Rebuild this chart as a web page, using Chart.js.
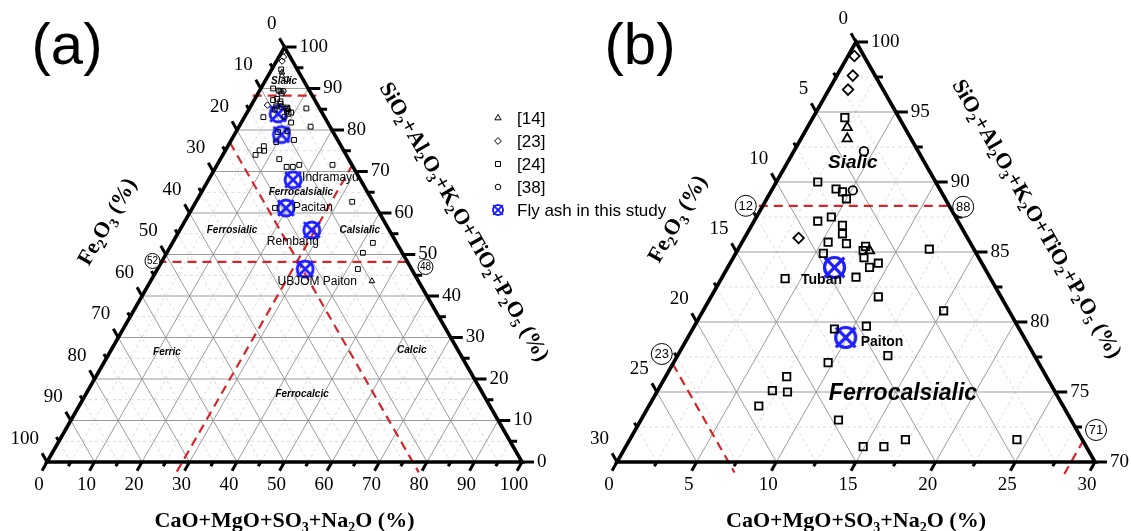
<!DOCTYPE html>
<html><head><meta charset="utf-8">
<script src="https://cdn.jsdelivr.net/npm/chart.js@4.4.1/dist/chart.umd.min.js"></script>
<style>html,body{margin:0;padding:0;background:#fff;overflow:hidden}#wrap{position:relative;width:1131px;height:531px}</style>
</head><body><div id="wrap"><canvas id="c" width="1131" height="531"></canvas></div>
<script>
// ---------------- DATA (percent values) ----------------
const seriesLabels = ['[14]', '[23]', '[24]', '[38]', 'Fly ash in this study'];
// [14] triangles
const ref14CaO  = [2.5, 2.9, 8.3, 46.6];
const ref14SiO2 = [93.9, 93.1, 85.1, 43.6];
// [23] diamonds
const ref23CaO  = [0.4, 1.0, 1.2, 3.4];
const ref23SiO2 = [99.0, 97.6, 96.6, 86.0];
// [24] squares
const ref24CaO  = [2.0, 2.6, 4.0, 4.5, 5.0, 4.0, 4.7, 5.7, 6.0, 5.4, 6.6, 5.5, 7.9, 7.9, 8.2, 8.9, 9.3, 12.0, 4.0, 8.4, 10.5, 8.9, 10.8, 13.2, 9.7, 7.6, 7.2, 8.2, 6.9, 12.4, 14.9, 16.2, 17.3, 24.3, 15.1, 17.4, 32.9, 42.2, 41.3, 42.2];
const ref24SiO2 = [94.6, 90.0, 89.5, 89.3, 88.8, 87.2, 87.5, 86.9, 86.3, 85.7, 85.6, 84.9, 85.1, 85.4, 84.6, 83.9, 84.2, 85.2, 83.1, 83.2, 81.8, 79.5, 79.7, 77.6, 77.1, 76.1, 75.1, 75.0, 74.0, 73.0, 71.1, 71.1, 71.6, 71.6, 80.8, 61.2, 62.7, 52.8, 50.4, 46.5];
// [38] circles
const ref38CaO  = [4.4, 5.1];
const ref38SiO2 = [92.2, 89.4];
// Fly ash in this study
const flyNames = ['Tuban', 'Paiton', 'Indramayu', 'Pacitan', 'Rembang', 'UBJOM Paiton'];
const flyCaO   = [6.7, 9.9, 17.8, 19.7, 27.8, 31.1];
const flySiO2  = [83.9, 78.9, 68.0, 61.2, 55.9, 46.5];
// classification boundaries
const boundSiO2  = [88.3, 48.2];
const boundCaO   = [28.5];
const boundFe2O3 = [23];
const boundTags  = ['52', '48', '12', '88', '23', '71'];
// region names (position given as CaO, SiO2)
const regionA = ['Sialic', 'Ferrocalsialic', 'Ferrosialic', 'Calsialic', 'Ferric', 'Ferrocalcic', 'Calcic'];
const regionACaO  = [4.0, 20.9, 11.0, 37.9, 12.0, 45.5, 63.3];
const regionASiO2 = [91.8, 65.1, 55.9, 55.9, 26.5, 16.4, 27.0];
const regionB = ['Sialic', 'Ferrocalsialic'];
const regionBCaO  = [4.1, 15.5];
const regionBSiO2 = [91.4, 74.9];
const titleBottom = 'CaO+MgO+SO3+Na2O (%)';
const titleLeft   = 'Fe2O3 (%)';
const titleRight  = 'SiO2+Al2O3+K2O+TiO2+P2O5 (%)';

// ---------------- LAYOUT ----------------
const P = {
  a: {x0: 47, y0: 462, w: 475, h: 415, smin: 0, range: 100, n: 10},
  b: {x0: 617, y0: 462, w: 478, h: 420, smin: 70, range: 30, n: 6}
};
const RED = 'rgb(214,36,40)';
const BLUE = 'rgb(30,30,255)';

function tern(p, cao, sio2) {
  const c = cao / p.range, s = (sio2 - p.smin) / p.range;
  return {x: p.x0 + (c + s / 2) * p.w, y: p.y0 - s * p.h};
}
function inside(p, cao, sio2) {
  const c = cao / p.range, s = (sio2 - p.smin) / p.range;
  return c >= 0 && s >= 0 && c + s <= 1.0001;
}
function flyIcon(r, lw) {
  const s = Math.ceil(2 * r + lw * 2 + 6);
  const cv = document.createElement('canvas'); cv.width = s; cv.height = s;
  const g = cv.getContext('2d'); const m = s / 2;
  g.strokeStyle = BLUE; g.lineWidth = lw;
  g.beginPath(); g.arc(m, m, r, 0, Math.PI * 2); g.stroke();
  const d = r * 0.98;
  g.beginPath(); g.moveTo(m - d, m - d); g.lineTo(m + d, m + d); g.moveTo(m + d, m - d); g.lineTo(m - d, m + d); g.stroke();
  return cv;
}
const icons = {a: flyIcon(8, 2.9), b: flyIcon(10, 3.2), leg: flyIcon(5, 2)};

const styleA = [
  {pointStyle: 'triangle', radius: 3.3, lw: 1},
  {pointStyle: 'rectRot', radius: 3.2, lw: 1},
  {pointStyle: 'rect', radius: 3.4, lw: 1},
  {pointStyle: 'circle', radius: 2.6, lw: 1}
];
const styleB = [
  {pointStyle: 'triangle', radius: 5.4, lw: 1.8},
  {pointStyle: 'rectRot', radius: 5.3, lw: 1.8},
  {pointStyle: 'rect', radius: 5.2, lw: 1.8},
  {pointStyle: 'circle', radius: 4.3, lw: 1.8}
];
const refCaO = [ref14CaO, ref23CaO, ref24CaO, ref38CaO];
const refSiO2 = [ref14SiO2, ref23SiO2, ref24SiO2, ref38SiO2];

const datasets = [];
['a', 'b'].forEach(key => {
  const p = P[key]; const st = key === 'a' ? styleA : styleB;
  for (let i = 0; i < 4; i++) {
    const pts = [];
    refCaO[i].forEach((c, j) => { if (inside(p, c, refSiO2[i][j])) pts.push(tern(p, c, refSiO2[i][j])); });
    datasets.push({label: seriesLabels[i] + key, data: pts, pointStyle: st[i].pointStyle, pointRadius: st[i].radius,
      pointBorderWidth: st[i].lw, borderColor: '#000', backgroundColor: 'rgba(255,255,255,0)', showLine: false});
  }
  const fpts = [];
  flyCaO.forEach((c, j) => { if (inside(p, c, flySiO2[j])) fpts.push(tern(p, c, flySiO2[j])); });
  datasets.push({label: seriesLabels[4] + key, data: fpts, pointStyle: icons[key], pointRadius: 10, showLine: false,
    borderColor: BLUE, backgroundColor: 'rgba(0,0,0,0)'});
});

// ---------------- drawing helpers ----------------
function richParts(t) {
  const parts = [];
  for (const ch of t) {
    const sub = /[0-9]/.test(ch);
    const last = parts[parts.length - 1];
    if (last && last.sub === sub) last.t += ch; else parts.push({t: ch, sub});
  }
  return parts;
}
function drawRich(ctx, t, x, y, size, angle) {
  ctx.save(); ctx.translate(x, y); ctx.rotate(angle || 0);
  const parts = richParts(t); let W = 0;
  const f = sub => `bold ${sub ? Math.round(size * 0.62) : size}px "Liberation Serif", "Times New Roman", serif`;
  parts.forEach(q => { ctx.font = f(q.sub); q.w = ctx.measureText(q.t).width; W += q.w; });
  let cx = -W / 2; ctx.textAlign = 'left'; ctx.textBaseline = 'alphabetic'; ctx.fillStyle = '#000';
  parts.forEach(q => { ctx.font = f(q.sub); ctx.fillText(q.t, cx, q.sub ? size * 0.55 : size * 0.34); cx += q.w; });
  ctx.restore();
}
function fmt(v) { return String(Math.round(v * 100) / 100); }

const ternPlugin = {
  id: 'tern',
  beforeDatasetsDraw(chart) {
    const ctx = chart.ctx; const sx = chart.scales.x, sy = chart.scales.y;
    ['a', 'b'].forEach(key => {
      const p = P[key];
      const N = (c, s) => ({x: sx.getPixelForValue(p.x0 + (c + s / 2) * p.w), y: sy.getPixelForValue(p.y0 - s * p.h)});
      const seg = (A, B) => { ctx.beginPath(); ctx.moveTo(A.x, A.y); ctx.lineTo(B.x, B.y); ctx.stroke(); };
      const iso = v => {
        seg(N(0, v), N(1 - v, v));      // const SiO2
        seg(N(v, 0), N(v, 1 - v));      // const CaO
        seg(N(1 - v, 0), N(0, 1 - v));  // const Fe2O3
      };
      ctx.save();
      ctx.lineWidth = 0.8; ctx.strokeStyle = '#cfcfcf'; ctx.setLineDash([3, 3]);
      for (let k = 1; k < 2 * p.n; k += 2) iso(k / (2 * p.n));
      ctx.setLineDash([]); ctx.strokeStyle = '#909090'; ctx.lineWidth = 0.9;
      for (let k = 1; k < p.n; k++) iso(k / p.n);
      // red boundaries
      ctx.strokeStyle = RED; ctx.lineWidth = 2.2; ctx.setLineDash([9, 6]);
      const ext = (A, B, ea, eb) => {
        const dx = B.x - A.x, dy = B.y - A.y, L = Math.hypot(dx, dy);
        const ux = dx / L, uy = dy / L;
        seg({x: A.x - ux * ea, y: A.y - uy * ea}, {x: B.x + ux * eb, y: B.y + uy * eb});
      };
      boundSiO2.forEach(b => { const s = (b - p.smin) / p.range; if (s > 0 && s < 1) ext(N(0, s), N(1 - s, s), 4, 4); });
      boundCaO.forEach(b => { const c = b / p.range; if (c > 0 && c < 1) ext(N(c, 1 - c), N(c, 0), 1, 14); });
      boundFe2O3.forEach(b => { const f = b / p.range; if (f > 0 && f < 1) ext(N(0, 1 - f), N(1 - f, 0), 0, 12); });
      ctx.setLineDash([]);
      // frame
      ctx.strokeStyle = '#000'; ctx.lineWidth = 3.6; ctx.lineJoin = 'miter';
      const V1 = N(0, 0), V2 = N(1, 0), V3 = N(0, 1);
      ctx.beginPath(); ctx.moveTo(V1.x, V1.y); ctx.lineTo(V2.x, V2.y); ctx.lineTo(V3.x, V3.y); ctx.closePath(); ctx.stroke();
      // ticks
      const dB = {x: -p.w / 2, y: p.h}, dL = {x: -p.w / 2, y: -p.h};
      const nB = Math.hypot(dB.x, dB.y);
      ctx.lineWidth = 3; ctx.lineCap = 'butt';
      for (let k = 0; k <= 2 * p.n; k++) {
        const v = k / (2 * p.n); const len = k % 2 === 0 ? 10 : 5;
        let A = N(v, 0); seg(A, {x: A.x + dB.x / nB * len, y: A.y + dB.y / nB * len});
        A = N(0, 1 - v); seg(A, {x: A.x + dL.x / nB * len, y: A.y + dL.y / nB * len});
        A = N(1 - v, v); seg(A, {x: A.x + len + 2, y: A.y});
      }
      ctx.restore();
    });
  },
  afterDatasetsDraw(chart) {
    const ctx = chart.ctx; const sx = chart.scales.x, sy = chart.scales.y;
    ctx.save();
    ['a', 'b'].forEach(key => {
      const p = P[key];
      const N = (c, s) => ({x: sx.getPixelForValue(p.x0 + (c + s / 2) * p.w), y: sy.getPixelForValue(p.y0 - s * p.h)});
      const T = (cao, sio2) => { const q = tern(p, cao, sio2); return {x: sx.getPixelForValue(q.x), y: sy.getPixelForValue(q.y)}; };
      ctx.fillStyle = '#000';
      ctx.font = '19px "Liberation Serif", "Times New Roman", serif';
      ctx.textBaseline = 'middle';
      const step = p.range / p.n;
      for (let k = 0; k <= p.n; k++) {
        const v = k / p.n; let A;
        A = N(v, 0); ctx.textAlign = 'center'; ctx.fillText(fmt(k * step), A.x - 8, A.y + 23);
        A = N(0, 1 - v); ctx.textAlign = 'right'; ctx.fillText(fmt(k * step), A.x - 8, A.y - 23);
        A = N(1 - v, v); ctx.textAlign = 'left'; ctx.fillText(fmt(p.smin + k * step), A.x + 15, A.y);
      }
      // axis titles
      const cx = p.x0 + p.w / 2;
      drawRich(ctx, titleBottom, sx.getPixelForValue(cx), sy.getPixelForValue(p.y0 + 58), 22, 0);
      drawRich(ctx, titleLeft, sx.getPixelForValue(p.x0 + 0.125 * p.w), sy.getPixelForValue(p.y0 - 0.58 * p.h), 22, -Math.PI / 3);
      drawRich(ctx, titleRight, sx.getPixelForValue(p.x0 + 0.88 * p.w), sy.getPixelForValue(p.y0 - 0.58 * p.h), 22, Math.PI / 3);
      // region names
      ctx.textAlign = 'center'; ctx.textBaseline = 'middle';
      if (key === 'a') {
        ctx.font = 'italic bold 10px "Liberation Sans", Arial, sans-serif';
        regionA.forEach((t, i) => { const q = T(regionACaO[i], regionASiO2[i]); ctx.fillText(t, q.x, q.y); });
      } else {
        regionB.forEach((t, i) => {
          ctx.font = `italic bold ${i === 0 ? 19 : 23}px "Liberation Sans", Arial, sans-serif`;
          const q = T(regionBCaO[i], regionBSiO2[i]); ctx.fillText(t, q.x, q.y);
        });
      }
    });
    // station labels
    const pa = P.a, pb = P.b;
    const lab = (p, i, dx, dy, align, font) => {
      const q = tern(p, flyCaO[i], flySiO2[i]);
      ctx.font = font; ctx.textAlign = align; ctx.textBaseline = 'middle';
      ctx.fillText(flyNames[i], sx.getPixelForValue(q.x) + dx, sy.getPixelForValue(q.y) + dy);
    };
    const fa = '12px "Liberation Sans", Arial, sans-serif';
    lab(pa, 2, 9, -2, 'left', fa);
    lab(pa, 3, 7, 0, 'left', fa);
    lab(pa, 4, -19, 12, 'center', fa);
    lab(pa, 5, 12, 13, 'center', fa);
    const fb = 'bold 14px "Liberation Sans", Arial, sans-serif';
    lab(pb, 0, -13, 13, 'center', fb);
    lab(pb, 1, 15, 5, 'left', fb);
    // circled boundary tags
    const circ = (t, x, y, r, fs) => {
      ctx.beginPath(); ctx.arc(x, y, r, 0, Math.PI * 2); ctx.fillStyle = '#fff'; ctx.fill();
      ctx.lineWidth = 1; ctx.strokeStyle = '#000'; ctx.stroke();
      ctx.fillStyle = '#000'; ctx.font = `${fs}px "Liberation Sans", Arial, sans-serif`;
      ctx.textAlign = 'center'; ctx.textBaseline = 'middle'; ctx.fillText(t, x, y + 0.5);
    };
    const E = (p, c, s) => { const q = tern(p, c, s); return {x: sx.getPixelForValue(q.x), y: sy.getPixelForValue(q.y)}; };
    let A;
    A = E(pa, 0, boundSiO2[1]); circ(boundTags[0], A.x - 9, A.y - 1, 7.5, 10);
    A = E(pa, 100 - boundSiO2[1], boundSiO2[1]); circ(boundTags[1], A.x + 18, A.y + 5, 7.5, 10);
    A = E(pb, 0, boundSiO2[0]); circ(boundTags[2], A.x - 17, A.y, 10.5, 13);
    A = E(pb, 100 - boundSiO2[0], boundSiO2[0]); circ(boundTags[3], A.x + 14, A.y + 1, 10.5, 13);
    A = E(pb, 0, 100 - boundFe2O3[0]); circ(boundTags[4], A.x - 11, A.y - 10, 10.5, 13);
    A = E(pb, boundCaO[0], 100 - boundCaO[0]); circ(boundTags[5], A.x + 13, A.y - 11, 10.5, 13);
    // legend
    const lx = 498, ly = [118, 141, 164, 187, 210];
    const lst = [
      {s: 'triangle', r: 3.6}, {s: 'rectRot', r: 3.4}, {s: 'rect', r: 3.5}, {s: 'circle', r: 2.8}
    ];
    ctx.strokeStyle = '#000'; ctx.fillStyle = 'rgba(0,0,0,0)'; ctx.lineWidth = 1;
    lst.forEach((o, i) => { Chart.helpers.drawPoint(ctx, {pointStyle: o.s, radius: o.r, borderWidth: 1}, lx, ly[i]); });
    ctx.drawImage(icons.leg, lx - icons.leg.width / 2, ly[4] - icons.leg.height / 2);
    ctx.fillStyle = '#000'; ctx.font = '17px "Liberation Sans", Arial, sans-serif';
    ctx.textAlign = 'left'; ctx.textBaseline = 'middle';
    seriesLabels.forEach((t, i) => ctx.fillText(t, 517, ly[i] + 1));
    // panel letters
    ctx.font = '58px "Liberation Sans", Arial, sans-serif'; ctx.textAlign = 'center';
    ctx.fillText('(a)', 67, 48); ctx.fillText('(b)', 640, 48);
    ctx.restore();
  }
};

new Chart(document.getElementById('c'), {
  type: 'scatter',
  data: {datasets},
  options: {
    responsive: false, animation: false, events: [],
    devicePixelRatio: 1,
    layout: {padding: 0, autoPadding: false},
    scales: {
      x: {type: 'linear', min: 0, max: 1131, display: false},
      y: {type: 'linear', min: 0, max: 531, reverse: true, display: false}
    },
    plugins: {legend: {display: false}, tooltip: {enabled: false}}
  },
  plugins: [ternPlugin]
});
</script>
</body></html>
